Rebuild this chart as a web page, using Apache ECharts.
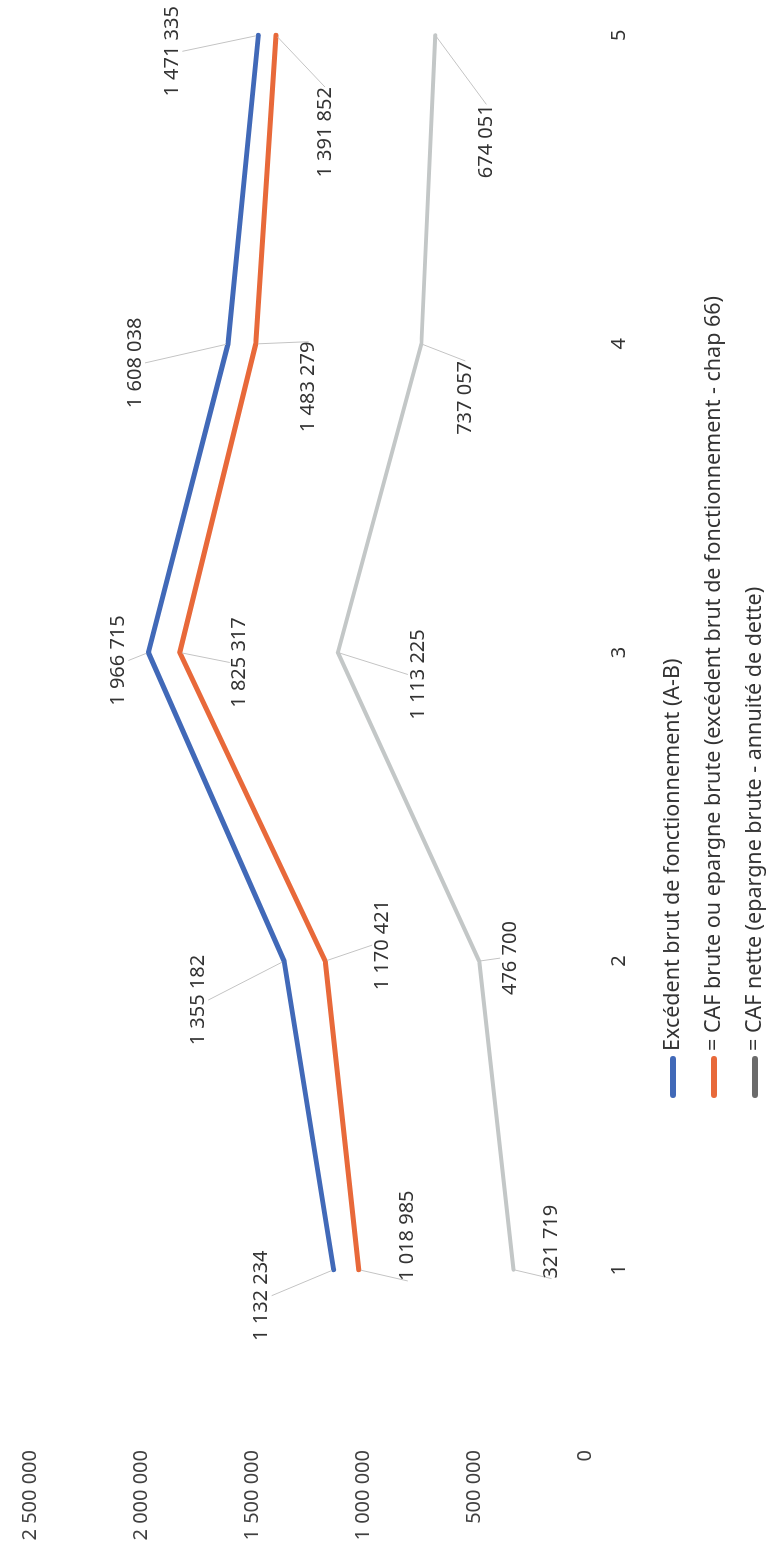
<!DOCTYPE html>
<html>
<head>
<meta charset="utf-8">
<script src="https://cdn.jsdelivr.net/npm/echarts@6/dist/echarts.min.js"></script>
<style>
html, body { margin:0; padding:0; width:774px; height:1555px; overflow:hidden; background:#fff; }
/* the scanned page is turned a quarter turn, so the chart is drawn flat and rotated */
#chart { position:absolute; left:0; top:0; width:1700px; height:774px;
         transform-origin:0 0; transform:translateY(1555px) rotate(-90deg); }
</style>
</head>
<body>
<div id="chart"></div>
<script>
var categories = ['1', '2', '3', '4', '5'];
var seriesNames = [
    'Excédent brut de fonctionnement (A-B)',
    '= CAF brute ou epargne brute (excédent brut de fonctionnement - chap 66)',
    '= CAF nette (epargne brute - annuité de dette)'
];
var excedentBrut = [1132234, 1355182, 1966715, 1608038, 1471335];
var cafBrute = [1018985, 1170421, 1825317, 1483279, 1391852];
var cafNette = [321719, 476700, 1113225, 737057, 674051];
var valueMin = 0;
var valueMax = 2500000;
var valueStep = 500000;

// where each data label was dragged to (px from its point)
var shiftExcedent = [[-26, -72], [-39, -86], [-8, -30], [-19, -93], [-16, -86]];
var shiftBrute = [[34, 49], [16, 57], [-10, 60], [-43, 53], [-97, 49]];
var shiftNette = [[28, 38], [3, 31], [-22, 80], [-54, 44], [-106, 51]];

var font = 'Noto Sans';
var colors = ['#4169B8', '#E8693A', '#C3C7C7'];

function spaced(v) {
    return String(v).replace(/\B(?=(\d{3})+(?!\d))/g, ' ');
}

function makeSeries(name, data, color, width, shifts) {
    return {
        name: name,
        type: 'line',
        data: data,
        symbol: 'circle',
        symbolSize: width - 1,
        showSymbol: true,
        itemStyle: { color: color },
        lineStyle: { color: color, width: width, cap: 'round', join: 'round' },
        label: {
            show: true,
            position: 'inside',
            fontFamily: font,
            fontSize: 20,
            color: '#333',
            formatter: function (p) { return spaced(p.value); }
        },
        labelLine: { show: true, lineStyle: { color: '#c4c4c4', width: 1 } },
        labelLayout: function (p) {
            var s = shifts[p.dataIndex];
            return { dx: s[0], dy: s[1] };
        },
        emphasis: { disabled: true }
    };
}

var chart = echarts.init(document.getElementById('chart'));
var icon = 'path://M3,0H39A3,3,0,0,1,39,6H3A3,3,0,0,1,3,0Z';
chart.setOption({
    animation: false,
    grid: { left: 131, right: 26, top: 30, bottom: 189, outerBoundsMode: 'none' },
    legend: {
        orient: 'vertical',
        left: 457,
        top: 662,
        padding: 0,
        itemGap: 19,
        itemWidth: 42,
        itemHeight: 6,
        icon: icon,
        textStyle: { fontFamily: font, fontSize: 21.5, color: '#333', lineHeight: 22 },
        data: [
            { name: seriesNames[0], itemStyle: { color: colors[0] } },
            { name: seriesNames[1], itemStyle: { color: colors[1] } },
            { name: seriesNames[2], itemStyle: { color: '#6b6b6b' } }
        ]
    },
    xAxis: {
        type: 'category',
        data: categories,
        boundaryGap: true,
        axisLine: { show: false },
        axisTick: { show: false },
        axisLabel: { fontFamily: font, fontSize: 20, color: '#333', margin: 24 }
    },
    yAxis: {
        type: 'value',
        min: valueMin,
        max: valueMax,
        interval: valueStep,
        splitLine: { show: false },
        axisLine: { show: false },
        axisTick: { show: false },
        axisLabel: {
            fontFamily: font, fontSize: 20, color: '#404040', margin: 26,
            formatter: function (v) { return spaced(v); }
        }
    },
    series: [
        makeSeries(seriesNames[0], excedentBrut, colors[0], 5, shiftExcedent),
        makeSeries(seriesNames[1], cafBrute, colors[1], 5, shiftBrute),
        makeSeries(seriesNames[2], cafNette, colors[2], 4, shiftNette)
    ]
});
</script>
</body>
</html>
